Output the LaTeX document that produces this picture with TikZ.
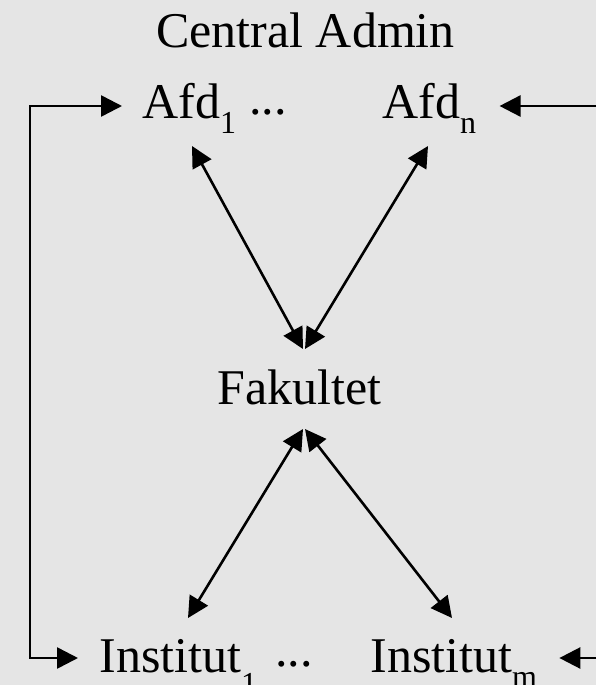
\documentclass[tikz,border=0pt]{standalone}
\usepackage{fontspec}
\setmainfont{Liberation Serif}
\usetikzlibrary{arrows.meta,calc,positioning}
\definecolor{panelgray}{HTML}{E5E5E5}
\newcommand{\subidx}[2][7.5pt]{\raisebox{-#1}{\fontsize{16}{16}\selectfont #2}}

\begin{document}
\begin{tikzpicture}[
        x=0.5pt, y=-0.5pt,
        every node/.style={font=\fontsize{25}{30}\selectfont, inner sep=0pt},
        unit/.style={anchor=base west},
        dots/.style={anchor=base},
        line/.style={-{Triangle[length=10.5pt,width=10.5pt]}, line width=1.3pt},
        biline/.style={{Triangle[length=10.5pt,width=10.5pt]}-{Triangle[length=10.5pt,width=10.5pt]}, line width=1.3pt}
    ]
        \useasboundingbox[fill=panelgray] (0,0) rectangle (596,685);
        \node[anchor=base] (admin) at (305.5,47) {Central Admin};
        \node[unit] (afd1) at (142,118) {Afd\subidx{1}};
        \node[dots] (dotsA) at (268,114) {...};
        \node[unit] (afdn) at (382,118) {Afd\subidx{n}};
        \node[unit] (fak) at (217,404) {Fakultet};
        \node[unit] (inst1) at (99,672) {Institut\subidx[11.3pt]{1}};
        \node[dots] (dotsI) at (294,666) {...};
        \node[unit] (instm) at (370,672) {Institut\subidx{m}};
        \coordinate (loopW) at (30,0);
        \coordinate (loopE) at (596,0);
        \coordinate (afd1in) at ($(afd1.base west)+(-20,-12)$);
        \coordinate (inst1in) at ($(inst1.base west)+(-21,-14)$);
        \coordinate (afdnin) at ($(afdn.base east)+(23,-12)$);
        \coordinate (instmin) at ($(instm.base east)+(22,-14)$);
        \draw[biline] (afd1in) -- (afd1in -| loopW) |- (inst1in);
        \draw[line] (afdnin -| loopE) -- (afdnin);
        \draw[line] (instmin -| loopE) -- (instmin);
        \draw[biline] ($(afd1.base west)+(50,28)$) -- ($(fak.base west)+(86,-55)$);
        \draw[biline] ($(afdn.base west)+(46,28)$) -- ($(fak.base west)+(88,-55)$);
        \draw[biline] ($(fak.base west)+(86,25)$) -- ($(inst1.base west)+(89,-54)$);
        \draw[biline] ($(fak.base west)+(88,25)$) -- ($(instm.base west)+(82,-54)$);
    \end{tikzpicture}
\end{document}
